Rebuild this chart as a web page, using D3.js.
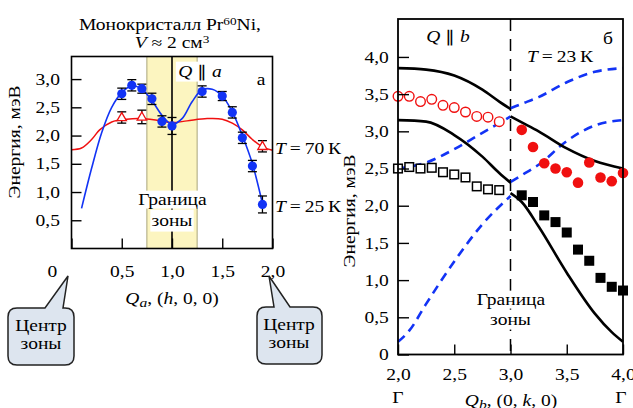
<!DOCTYPE html>
<html>
<head>
<meta charset="utf-8">
<script src="https://cdn.jsdelivr.net/npm/d3@7"></script>
<style>
  body { margin: 0; background: #fff; }
  svg { display: block; font-family: "Liberation Serif", "Times New Roman", serif; }
</style>
</head>
<body>
<div id="chart"></div>
<script>
// ---- panel а : Q || a ----
var hBlue = [0.5, 0.6, 0.7, 0.8, 0.9, 1.0, 1.3, 1.5, 1.6, 1.7, 1.8, 1.9]
var eBlue = [2.74, 2.89, 2.83, 2.65, 2.25, 2.17, 2.78, 2.70, 2.41, 1.96, 1.46, 0.78]
var errBlue = [0.1, 0.1, 0.08, 0.1, 0.1, 0.15, 0.1, 0.08, 0.1, 0.1, 0.1, 0.15]
var hRed = [0.5, 0.7, 1.9]
var eRed = [2.32, 2.33, 1.81]
var errRed = [0.1, 0.12, 0.1]
// fitted curves
var hFitBlue = [0.1, 0.2, 0.3, 0.4, 0.5, 0.6, 0.7, 0.8, 0.9, 1.0, 1.1, 1.2, 1.3, 1.4, 1.5, 1.6, 1.7, 1.8, 1.91]
var eFitBlue = [0.71, 1.42, 2.05, 2.5, 2.76, 2.88, 2.82, 2.62, 2.36, 2.2, 2.3, 2.6, 2.81, 2.82, 2.7, 2.42, 2.0, 1.5, 0.72]
var hFitRed = [0, 0.1, 0.2, 0.28, 0.4, 0.55, 0.7, 0.85, 1.0, 1.15, 1.35, 1.5, 1.6, 1.7, 1.8, 1.9, 2.0]
var eFitRed = [1.75, 1.78, 1.93, 2.1, 2.24, 2.29, 2.3, 2.27, 2.23, 2.26, 2.3, 2.29, 2.22, 2.1, 1.93, 1.8, 1.74]
var ticksA = [0.5, 1.0, 1.5, 2.0, 2.5, 3.0]
var ticksAx = [0, 0.5, 1.0, 1.5, 2.0]

// ---- panel б : Q || b, T = 23 K ----
var kLeft = [2.0, 2.1, 2.2, 2.3, 2.4, 2.5, 2.6, 2.7, 2.8, 2.9]
var kRight = [3.1, 3.2, 3.3, 3.4, 3.5, 3.6, 3.7, 3.8, 3.9, 4.0]
var eOpenCirc = [3.47, 3.47, 3.40, 3.43, 3.35, 3.32, 3.26, 3.20, 3.19, 3.13]
var eFillCirc = [3.02, 2.79, 2.57, 2.50, 2.45, 2.31, 2.58, 2.38, 2.33, 2.44]
var eOpenSq = [2.50, 2.52, 2.50, 2.51, 2.45, 2.42, 2.38, 2.26, 2.22, 2.21]
var eFillSq = [2.14, 2.05, 1.87, 1.78, 1.64, 1.41, 1.26, 1.03, 0.91, 0.86]
// calculated branches (black solid / blue dashed)
var kHalfL = [2.0, 2.25, 2.5, 2.75, 2.9, 3.0]
var kHalfR = [3.0, 3.1, 3.25, 3.5, 3.75, 4.0]
var eBlackTopL = [3.85, 3.83, 3.75, 3.56, 3.40, 3.30]
var eBlackLowL = [3.15, 3.13, 2.95, 2.66, 2.44, 2.31]
var eDashTopL = [2.50, 2.58, 2.76, 2.98, 3.11, 3.20]
var kDashLowL = [2.0, 2.1, 2.25, 2.5, 2.75, 3.0]
var eDashLowL = [0.17, 0.32, 0.68, 1.25, 1.75, 2.13]
var eDashTopR = [3.31, 3.37, 3.46, 3.66, 3.80, 3.85]
var eDashLowR = [2.32, 2.41, 2.55, 2.87, 3.08, 3.15]
var eBlackTopR = [3.20, 3.12, 3.00, 2.77, 2.60, 2.50]
var kBlackLowR = [3.0, 3.1, 3.25, 3.5, 3.75, 3.9, 4.0]
var eBlackLowR = [2.17, 2.05, 1.72, 1.10, 0.55, 0.30, 0.17]
var ticksB = [0, 0.5, 1.0, 1.5, 2.0, 2.5, 3.0, 3.5, 4.0]
var ticksBx = [2.0, 2.5, 3.0, 3.5, 4.0]

var SX = 1.22, FS = 16
var BLUE = "#1233f5", RED = "#f01010"

var svg = d3.select("#chart").append("svg")
  .attr("width", 633).attr("height", 408)

function fmt(d) { return d === 0 ? "0" : d3.format(".1f")(d).replace(".", ",") }

// text stretched a little horizontally, like the original typesetting
function txt(g, x, y, anchor, parts, rot) {
  var t = g.append("g")
    .attr("transform", "translate(" + x + "," + y + ")" + (rot ? " rotate(-90)" : "") + " scale(" + SX + ",1)")
    .append("text")
    .attr("text-anchor", anchor)
    .style("font-size", FS + "px")
  parts.forEach(function (p) {
    var s = t.append("tspan").text(p[0])
    if (p[1] === "i") s.style("font-style", "italic")
    if (p[1] === "sup") s.attr("baseline-shift", "5").style("font-size", "0.68em")
    if (p[1] === "sub") s.attr("baseline-shift", "-2.5").style("font-size", "0.8em").style("font-style", "italic")
  })
  return t
}
function whiteBg(t, px, py) {
  var b = t.node().getBBox()
  d3.select(t.node().parentNode).insert("rect", "text")
    .attr("x", b.x - px).attr("y", b.y - py)
    .attr("width", b.width + 2 * px).attr("height", b.height + 2 * py)
    .attr("fill", "#fff")
}
function styleAxis(g) {
  g.attr("font-family", null).attr("font-size", null)
  g.select(".domain").remove()
  g.selectAll(".tick line").attr("stroke", "#000").attr("stroke-width", 1.4)
  g.selectAll(".tick text").style("font-size", FS + "px").attr("fill", "#000")
    .attr("transform", "scale(" + SX + ",1)")
}

// ================= panel а =================
var xA = d3.scaleLinear().domain([0, 2]).range([71.5, 272.5])
var yA = d3.scaleLinear().domain([0, 3.4]).range([248.5, 56.5])
var pA = svg.append("g")

pA.append("rect")
  .attr("x", xA(0.75)).attr("y", yA(3.4))
  .attr("width", xA(1.25) - xA(0.75)).attr("height", yA(0) - yA(3.4))
  .attr("fill", "#fcf5c0").attr("stroke", "#a9a47c").attr("stroke-width", 1)

pA.append("line")
  .attr("x1", xA(1)).attr("x2", xA(1)).attr("y1", yA(3.4)).attr("y2", yA(0))
  .attr("stroke", "#000").attr("stroke-width", 1.6)

var qa = txt(pA, 200, 77, "middle", [["Q", "i"], [" \u2225 "], ["a", "i"]])
whiteBg(qa, 2, 1)

var lineA = d3.line().x(function (d) { return xA(d[0]) }).y(function (d) { return yA(d[1]) })
  .curve(d3.curveCatmullRom.alpha(0.5))

pA.append("path").datum(d3.zip(hFitRed, eFitRed)).attr("d", lineA)
  .attr("fill", "none").attr("stroke", RED).attr("stroke-width", 1.5)
pA.append("path").datum(d3.zip(hFitBlue, eFitBlue)).attr("d", lineA)
  .attr("fill", "none").attr("stroke", BLUE).attr("stroke-width", 1.6)

function errBars(g, hs, es, errs) {
  var eb = g.selectAll(null).data(d3.zip(hs, es, errs)).enter().append("g")
    .attr("stroke", "#000").attr("stroke-width", 1.3)
  eb.append("line").attr("x1", function (d) { return xA(d[0]) }).attr("x2", function (d) { return xA(d[0]) })
    .attr("y1", function (d) { return yA(d[1] - d[2]) }).attr("y2", function (d) { return yA(d[1] + d[2]) })
  eb.append("line").attr("x1", function (d) { return xA(d[0]) - 4.5 }).attr("x2", function (d) { return xA(d[0]) + 4.5 })
    .attr("y1", function (d) { return yA(d[1] + d[2]) }).attr("y2", function (d) { return yA(d[1] + d[2]) })
  eb.append("line").attr("x1", function (d) { return xA(d[0]) - 4.5 }).attr("x2", function (d) { return xA(d[0]) + 4.5 })
    .attr("y1", function (d) { return yA(d[1] - d[2]) }).attr("y2", function (d) { return yA(d[1] - d[2]) })
}
errBars(pA, hRed, eRed, errRed)
errBars(pA, hBlue, eBlue, errBlue)

pA.selectAll(null).data(d3.zip(hRed, eRed)).enter().append("path")
  .attr("d", d3.symbol(d3.symbolTriangle, 38))
  .attr("transform", function (d) { return "translate(" + xA(d[0]) + "," + (yA(d[1]) + 0.5) + ")" })
  .attr("fill", "#fff").attr("stroke", RED).attr("stroke-width", 1.3)

pA.selectAll(null).data(d3.zip(hBlue, eBlue)).enter().append("circle")
  .attr("cx", function (d) { return xA(d[0]) }).attr("cy", function (d) { return yA(d[1]) })
  .attr("r", 4.6).attr("fill", BLUE)

var gr1 = txt(pA, xA(1) + 0.5, 205, "middle", [["Граница"]])
whiteBg(gr1, 0, 0)
var gr2 = txt(pA, xA(1), 226, "middle", [["зоны"]])
whiteBg(gr2, 1, 2)

pA.append("rect")
  .attr("x", xA(0)).attr("y", yA(3.4))
  .attr("width", xA(2) - xA(0)).attr("height", yA(0) - yA(3.4))
  .attr("fill", "none").attr("stroke", "#000").attr("stroke-width", 1.6)

pA.append("g").attr("transform", "translate(0," + yA(0) + ")")
  .call(d3.axisBottom(xA).tickValues(ticksAx).tickSize(-10).tickSizeOuter(0).tickPadding(17).tickFormat(fmt))
  .call(styleAxis)
  .selectAll(".tick text").filter(function (d) { return d === 0 }).attr("x", -16)

pA.append("g").attr("transform", "translate(" + xA(0) + ",0)")
  .call(d3.axisLeft(yA).tickValues(ticksA).tickSize(-10).tickSizeOuter(0).tickPadding(9.5).tickFormat(fmt))
  .call(styleAxis)

txt(pA, 170, 30, "middle", [["Монокристалл Pr"], ["60", "sup"], ["Ni,"]])
txt(pA, 172, 48, "middle", [["V", "i"], [" \u2248 2 см"], ["3", "sup"]])
txt(pA, 261, 85, "middle", [["а"]])
txt(pA, 20, 142, "middle", [["Энергия, мэВ"]], true)
txt(pA, 275, 154, "start", [["T", "i"], ["\u2009=\u200970\u2009К"]])
txt(pA, 275, 212, "start", [["T", "i"], ["\u2009=\u200925\u2009К"]])
txt(pA, 172, 304, "middle", [["Q", "i"], ["a", "sub"], [", ("], ["h", "i"], [", 0, 0)"]])

// speech bubbles
function bubble(x0, y0, x1, y1, r, bl, br, tip) {
  return "M" + (x0 + r) + "," + y0 + "L" + bl + "," + y0 + "L" + tip[0] + "," + tip[1] +
    "L" + br + "," + y0 + "L" + (x1 - r) + "," + y0 + "Q" + x1 + "," + y0 + " " + x1 + "," + (y0 + r) +
    "L" + x1 + "," + (y1 - r) + "Q" + x1 + "," + y1 + " " + (x1 - r) + "," + y1 +
    "L" + (x0 + r) + "," + y1 + "Q" + x0 + "," + y1 + " " + x0 + "," + (y1 - r) +
    "L" + x0 + "," + (y0 + r) + "Q" + x0 + "," + y0 + " " + (x0 + r) + "," + y0 + "Z"
}
pA.append("path").attr("d", bubble(8, 308, 74, 365, 9, 45, 63, [68, 276]))
  .attr("fill", "#dde5ef").attr("stroke", "#222").attr("stroke-width", 1.5)
pA.append("path").attr("d", bubble(257, 307, 322, 364, 9, 274, 290, [269, 276]))
  .attr("fill", "#dde5ef").attr("stroke", "#222").attr("stroke-width", 1.5)
txt(pA, 41, 331, "middle", [["Центр"]])
txt(pA, 41, 349, "middle", [["зоны"]])
txt(pA, 289, 330, "middle", [["Центр"]])
txt(pA, 289, 348, "middle", [["зоны"]])

// ================= panel б =================
var xB = d3.scaleLinear().domain([2, 4]).range([398, 623])
var yB = d3.scaleLinear().domain([0, 4.51]).range([354.5, 19])
var pB = svg.append("g")

pB.append("line")
  .attr("x1", xB(3)).attr("x2", xB(3)).attr("y1", yB(4.51)).attr("y2", yB(0))
  .attr("stroke", "#000").attr("stroke-width", 1.5).attr("stroke-dasharray", "12,8")

var lineB = d3.line().x(function (d) { return xB(d[0]) }).y(function (d) { return yB(d[1]) })
  .curve(d3.curveMonotoneX)

var solid = [[kHalfL, eBlackTopL], [kHalfL, eBlackLowL], [kHalfR, eBlackTopR], [kBlackLowR, eBlackLowR]]
var dashed = [[kHalfL, eDashTopL], [kDashLowL, eDashLowL], [kHalfR, eDashTopR], [kHalfR, eDashLowR]]
dashed.forEach(function (c) {
  pB.append("path").datum(d3.zip(c[0], c[1])).attr("d", lineB)
    .attr("fill", "none").attr("stroke", BLUE).attr("stroke-width", 2.6).attr("stroke-dasharray", "9,6")
})
solid.forEach(function (c) {
  pB.append("path").datum(d3.zip(c[0], c[1])).attr("d", lineB)
    .attr("fill", "none").attr("stroke", "#000").attr("stroke-width", 2.6)
})

pB.selectAll(null).data(d3.zip(kLeft, eOpenCirc)).enter().append("circle")
  .attr("cx", function (d) { return xB(d[0]) }).attr("cy", function (d) { return yB(d[1]) })
  .attr("r", 4.8).attr("fill", "#fff").attr("stroke", RED).attr("stroke-width", 1.4)
pB.selectAll(null).data(d3.zip(kRight, eFillCirc)).enter().append("circle")
  .attr("cx", function (d) { return xB(d[0]) }).attr("cy", function (d) { return yB(d[1]) })
  .attr("r", 5.3).attr("fill", RED)
pB.selectAll(null).data(d3.zip(kLeft, eOpenSq)).enter().append("rect")
  .attr("x", function (d) { return xB(d[0]) - 4.3 }).attr("y", function (d) { return yB(d[1]) - 4.3 })
  .attr("width", 8.6).attr("height", 8.6).attr("fill", "#fff").attr("stroke", "#000").attr("stroke-width", 1.5)
pB.selectAll(null).data(d3.zip(kRight, eFillSq)).enter().append("rect")
  .attr("x", function (d) { return xB(d[0]) - 5 }).attr("y", function (d) { return yB(d[1]) - 5 })
  .attr("width", 10).attr("height", 10).attr("fill", "#000")

var gb1 = txt(pB, xB(3) + 0.5, 305, "middle", [["Граница"]])
whiteBg(gb1, 1, 0)
var gb2 = txt(pB, xB(3), 325, "middle", [["зоны"]])
whiteBg(gb2, 1, 1)

pB.append("rect")
  .attr("x", xB(2)).attr("y", yB(4.51))
  .attr("width", xB(4) - xB(2)).attr("height", yB(0) - yB(4.51))
  .attr("fill", "none").attr("stroke", "#000").attr("stroke-width", 1.8)

pB.append("g").attr("transform", "translate(0," + yB(0) + ")")
  .call(d3.axisBottom(xB).tickValues(ticksBx).tickSize(-10).tickSizeOuter(0).tickPadding(14).tickFormat(fmt))
  .call(styleAxis)
pB.append("g").attr("transform", "translate(" + xB(2) + ",0)")
  .call(d3.axisLeft(yB).tickValues(ticksB).tickSize(-11).tickSizeOuter(0).tickPadding(7.5).tickFormat(fmt))
  .call(styleAxis)

txt(pB, xB(2), 403, "middle", [["Г"]])
txt(pB, xB(4) - 2, 403, "middle", [["Г"]])
txt(pB, 511, 406, "middle", [["Q", "i"], ["b", "sub"], [", (0, "], ["k", "i"], [", 0)"]])
txt(pB, 355, 211, "middle", [["Энергия, мэВ"]], true)
txt(pB, 448, 42, "middle", [["Q", "i"], [" \u2225 "], ["b", "i"]])
txt(pB, 608, 44, "middle", [["б"]])
txt(pB, 527, 62, "start", [["T", "i"], ["\u2009=\u200923\u2009К"]])
</script>
</body>
</html>
